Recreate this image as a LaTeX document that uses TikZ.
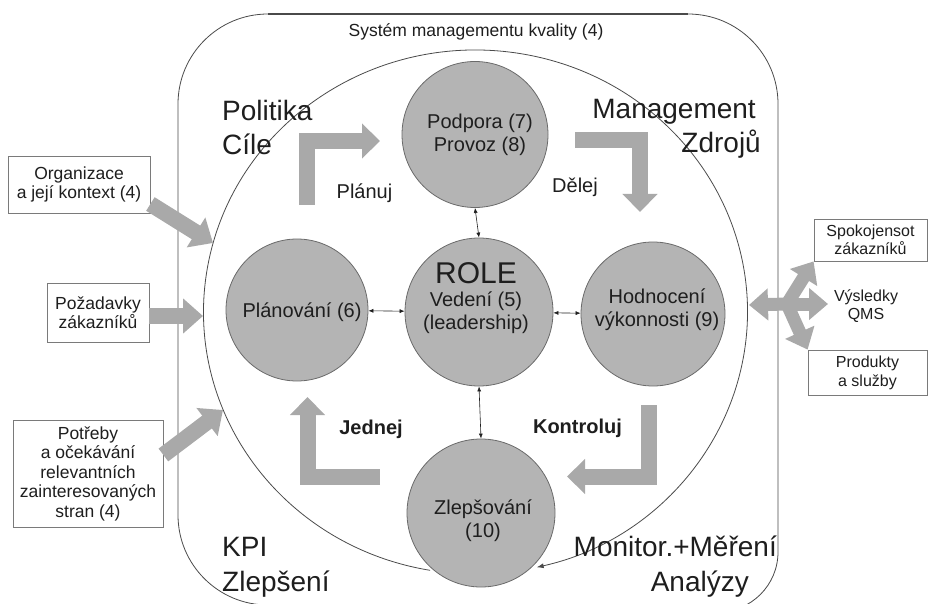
\documentclass[tikz,border=0pt]{standalone}
\usepackage{fontspec}
\setmainfont{Liberation Sans}
\usetikzlibrary{arrows.meta,calc}

\definecolor{ink}{HTML}{1E1E1E}
\definecolor{rim}{HTML}{4A4A4A}
\definecolor{discfill}{HTML}{B4B4B4}
\definecolor{discrim}{HTML}{6A6A6A}
\definecolor{fatgray}{HTML}{A9A9A9}
\definecolor{boxrim}{HTML}{7A7A7A}

\begin{document}
\begin{tikzpicture}[x=1pt,y=-1pt,
  every node/.style={text=ink, inner sep=0pt},
  disc/.style={circle, draw=discrim, fill=discfill, line width=0.8pt, minimum size=#1},
  lbl/.style={align=center, font=\fontsize{20}{23}\selectfont},
  big/.style={font=\fontsize{28}{34}\selectfont},
  verb/.style={font=\fontsize{20}{23}\selectfont},
  verbb/.style={font=\bfseries\fontsize{20}{23}\selectfont},
  inbox/.style={draw=boxrim, fill=white, line width=0.8pt, align=center,
                font=\fontsize{17.5}{19.5}\selectfont},
  outbox/.style={draw=boxrim, fill=white, line width=0.8pt, align=center,
                font=\fontsize{16}{17.5}\selectfont},
  fat/.style={draw=fatgray, line width=16pt, -{Triangle[length=20pt,width=34pt]}},
  fatr/.style={draw=fatgray, line width=13pt, -{Triangle[length=19pt,width=31pt]}},
  elbow/.style={draw=fatgray, line width=16pt, -{Triangle[length=18pt,width=34pt]}},
  link/.style={draw=ink, line width=0.6pt,
               {Latex[length=5pt,width=4pt]}-{Latex[length=5pt,width=4pt]}},
]
\useasboundingbox (0,0) rectangle (931,604);

% outer frame of the quality management system (its bottom runs off the page)
\draw[rim, line width=0.8pt]
  (268,605) arc[start angle=270, end angle=180, radius=90pt]
  -- (178,104) arc[start angle=180, end angle=90, radius=90pt]
  -- (688,14) arc[start angle=90, end angle=0, radius=90pt]
  -- (778,552) arc[start angle=0, end angle=-90, radius=60pt];
\draw[rim, line width=1.8pt] (268,14) -- (688,14);
\node[font=\fontsize{17.5}{19}\selectfont] (qms) at (476,32) {Systém managementu kvality (4)};

% the PDCA cycle as a large ring, ending in an arrow at the bottom
\coordinate (E) at (475.5,312);
\draw[rim, line width=0.8pt, -{Latex[length=7pt,width=5pt]}]
  ($(E)+(260.4:272pt and 262pt)$)
  arc[start angle=260.4, end angle=-77, x radius=272pt, y radius=262pt];

% inputs on the left
\node[inbox, minimum width=142pt, minimum height=57pt] (org) at (79,184.5)
  {Organizace\\a její kontext (4)};
\node[inbox, minimum width=102pt, minimum height=59pt] (poz) at (98,312.5)
  {Požadavky\\zákazníků};
\node[inbox, minimum width=150pt, minimum height=107pt] (pot) at (88,473.5)
  {Potřeby\\a očekávání\\relevantních\\zainteresovaných\\stran (4)};

\coordinate (orgTip) at (213,243);
\coordinate (pozTip) at (203,316);
\coordinate (potTip) at (223,410);
\draw[fat] (org.east |- 0,204) -- (orgTip);
\draw[fat] (poz.east |- 0,316) -- (pozTip);
\draw[fat] (pot.east |- 0,455) -- (potTip);

% outputs on the right
\node[outbox, minimum width=113pt, minimum height=42pt] (spok) at (870.5,240)
  {Spokojensot\\zákazníků};
\node[outbox, minimum width=119pt, minimum height=45pt,
      font=\fontsize{16}{19}\selectfont] (prod) at (867.5,372.5)
  {Produkty\\a služby};
\node[align=center, font=\fontsize{16}{18}\selectfont] (vys) at (866,306)
  {Výsledky\\QMS};

\coordinate (J) at (787,304);
\coordinate (ringR) at (749,305);
\draw[fatr] (J) -- (ringR);
\draw[fatr] (J) -- (spok.south west);
\draw[fatr] (J) -- (828,304);
\draw[fatr] (J) -- (prod.north west);

% process circles
\node[disc=146pt] (pod)  at (475,134.5) {};
\node[disc=148pt] (role) at (479,312) {};
\node[disc=142pt] (plan) at (297,310) {};
\node[disc=144pt] (hod)  at (653,314) {};
\node[disc=148pt] (zlep) at (481,513) {};

\node[lbl] (podt) at (480,135) {Podpora (7)\\Provoz (8)};
\node[lbl] (rolet) at (476,298) {{\fontsize{30}{30}\selectfont ROLE}\\Vedení (5)\\(leadership)};
\node[lbl] (plant) at (302,312) {Plánování (6)};
\node[lbl] (hodt) at (657,310) {Hodnocení\\výkonnosti (9)};
\node[lbl] (zlept) at (483,521) {Zlepšování\\(10)};

\draw[link] (plan) -- (role);
\draw[link] (role) -- (hod);
\draw[link] (role.north) -- (pod.south);
\draw[link] (role.south) -- (zlep.north);

% the four bent arrows of the cycle
\draw[elbow] (306.5,205) |- (380,141);
\draw[elbow] (575,140) -| (640,212);
\draw[elbow] (648.5,405) |- (567,476.5);
\draw[elbow] (380,476.5) -| (307.5,397);

\node[verb]  (planuj) at (364.5,193) {Plánuj};
\node[verb]  (delej)  at (575,187) {Dělej};
\node[verbb] (jednej) at (371,429) {Jednej};
\node[verbb] (kontr)  at (577.5,428) {Kontroluj};

% corner captions
\node[big, anchor=base west] (pol)  at (222,121) {Politika};
\node[big, anchor=base west] (cile) at (222,155) {Cíle};
\node[big, anchor=base east] (man)  at (756,119) {Management};
\node[big, anchor=base east] (zdr)  at (761,153) {Zdrojů};
\node[big, anchor=base west] (kpi)  at (222,556) {KPI};
\node[big, anchor=base west] (zle)  at (222,591) {Zlepšení};
\node[big, anchor=base east] (mon)  at (777,556) {Monitor.+Měření};
\node[big, anchor=base east] (ana)  at (749,591) {Analýzy};
\end{tikzpicture}
\end{document}
